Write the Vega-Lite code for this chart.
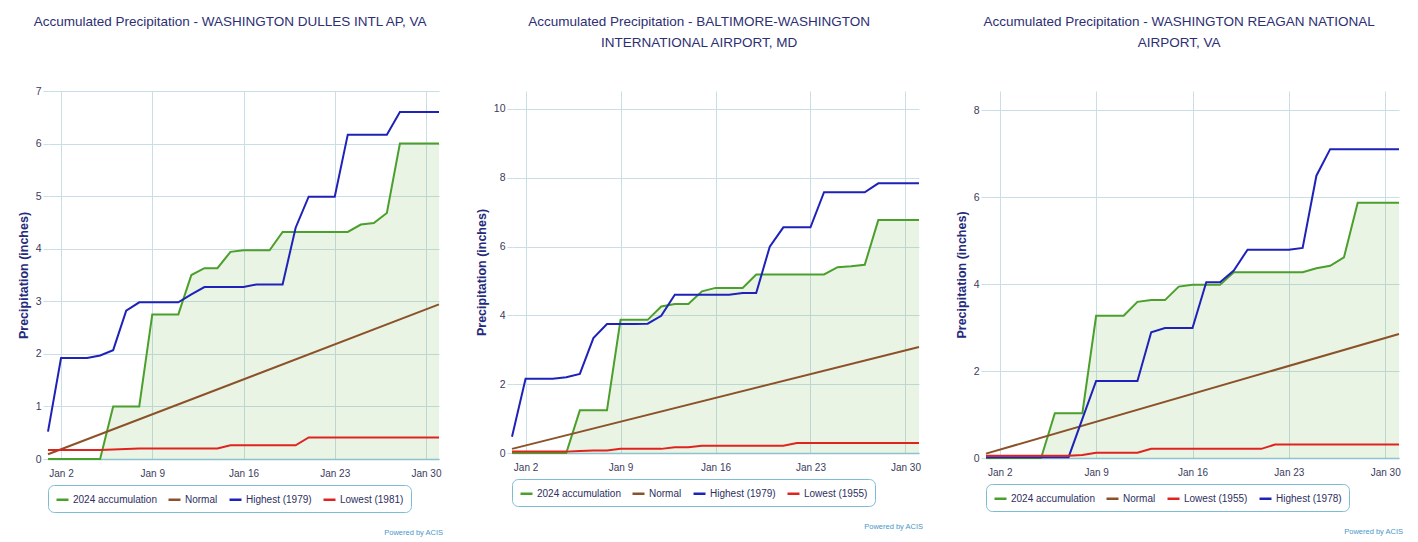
{
  "$schema": "https://vega.github.io/schema/vega-lite/v6.json",
  "background": "white",
  "padding": {"left": 17, "top": 14, "right": 5, "bottom": 2},
  "config": {
    "font": "Liberation Sans",
    "view": {"stroke": null},
    "title": {"fontSize": 13.5, "fontWeight": "normal", "color": "#2d2f73", "lineHeight": 21, "frame": "bounds"},
    "axis": {"labelFontSize": 10.5, "labelColor": "#3b3b5c", "gridColor": "#c9dee7", "tickColor": "#c9dee7", "domain": false, "titleColor": "#262a7a", "titleFontSize": 12.5, "titleFontWeight": "bold"},
    "legend": {"orient": "bottom", "direction": "horizontal", "strokeColor": "#7cbcd4", "cornerRadius": 6, "padding": 7, "fillColor": "#ffffff", "labelFontSize": 10, "labelColor": "#2d2f5e", "columnPadding": 6, "symbolStrokeWidth": 2.5, "symbolSize": 144, "offset": 7, "labelOffset": 3}
  },
  "datasets": {
    "dulles": [
      {"date":"2024-01-01","series":"2024 accumulation","value":0},{"date":"2024-01-02","series":"2024 accumulation","value":0},{"date":"2024-01-03","series":"2024 accumulation","value":0},{"date":"2024-01-04","series":"2024 accumulation","value":0},{"date":"2024-01-05","series":"2024 accumulation","value":0},{"date":"2024-01-06","series":"2024 accumulation","value":1.0},{"date":"2024-01-07","series":"2024 accumulation","value":1.0},{"date":"2024-01-08","series":"2024 accumulation","value":1.0},{"date":"2024-01-09","series":"2024 accumulation","value":2.75},{"date":"2024-01-10","series":"2024 accumulation","value":2.75},{"date":"2024-01-11","series":"2024 accumulation","value":2.75},{"date":"2024-01-12","series":"2024 accumulation","value":3.5},{"date":"2024-01-13","series":"2024 accumulation","value":3.63},{"date":"2024-01-14","series":"2024 accumulation","value":3.63},{"date":"2024-01-15","series":"2024 accumulation","value":3.94},{"date":"2024-01-16","series":"2024 accumulation","value":3.97},{"date":"2024-01-17","series":"2024 accumulation","value":3.97},{"date":"2024-01-18","series":"2024 accumulation","value":3.97},{"date":"2024-01-19","series":"2024 accumulation","value":4.32},{"date":"2024-01-20","series":"2024 accumulation","value":4.32},{"date":"2024-01-21","series":"2024 accumulation","value":4.32},{"date":"2024-01-22","series":"2024 accumulation","value":4.32},{"date":"2024-01-23","series":"2024 accumulation","value":4.32},{"date":"2024-01-24","series":"2024 accumulation","value":4.32},{"date":"2024-01-25","series":"2024 accumulation","value":4.46},{"date":"2024-01-26","series":"2024 accumulation","value":4.49},{"date":"2024-01-27","series":"2024 accumulation","value":4.68},{"date":"2024-01-28","series":"2024 accumulation","value":6.0},{"date":"2024-01-29","series":"2024 accumulation","value":6.0},{"date":"2024-01-30","series":"2024 accumulation","value":6.0},{"date":"2024-01-31","series":"2024 accumulation","value":6.0},
      {"date":"2024-01-01","series":"Normal","value":0.09},{"date":"2024-01-31","series":"Normal","value":2.94},
      {"date":"2024-01-01","series":"Highest (1979)","value":0.52},{"date":"2024-01-02","series":"Highest (1979)","value":1.92},{"date":"2024-01-03","series":"Highest (1979)","value":1.92},{"date":"2024-01-04","series":"Highest (1979)","value":1.92},{"date":"2024-01-05","series":"Highest (1979)","value":1.97},{"date":"2024-01-06","series":"Highest (1979)","value":2.07},{"date":"2024-01-07","series":"Highest (1979)","value":2.82},{"date":"2024-01-08","series":"Highest (1979)","value":2.98},{"date":"2024-01-09","series":"Highest (1979)","value":2.98},{"date":"2024-01-10","series":"Highest (1979)","value":2.98},{"date":"2024-01-11","series":"Highest (1979)","value":2.98},{"date":"2024-01-12","series":"Highest (1979)","value":3.13},{"date":"2024-01-13","series":"Highest (1979)","value":3.27},{"date":"2024-01-14","series":"Highest (1979)","value":3.27},{"date":"2024-01-15","series":"Highest (1979)","value":3.27},{"date":"2024-01-16","series":"Highest (1979)","value":3.27},{"date":"2024-01-17","series":"Highest (1979)","value":3.32},{"date":"2024-01-18","series":"Highest (1979)","value":3.32},{"date":"2024-01-19","series":"Highest (1979)","value":3.32},{"date":"2024-01-20","series":"Highest (1979)","value":4.4},{"date":"2024-01-21","series":"Highest (1979)","value":4.99},{"date":"2024-01-22","series":"Highest (1979)","value":4.99},{"date":"2024-01-23","series":"Highest (1979)","value":4.99},{"date":"2024-01-24","series":"Highest (1979)","value":6.17},{"date":"2024-01-25","series":"Highest (1979)","value":6.17},{"date":"2024-01-26","series":"Highest (1979)","value":6.17},{"date":"2024-01-27","series":"Highest (1979)","value":6.17},{"date":"2024-01-28","series":"Highest (1979)","value":6.6},{"date":"2024-01-29","series":"Highest (1979)","value":6.6},{"date":"2024-01-30","series":"Highest (1979)","value":6.6},{"date":"2024-01-31","series":"Highest (1979)","value":6.6},
      {"date":"2024-01-01","series":"Lowest (1981)","value":0.17},{"date":"2024-01-02","series":"Lowest (1981)","value":0.17},{"date":"2024-01-03","series":"Lowest (1981)","value":0.17},{"date":"2024-01-04","series":"Lowest (1981)","value":0.17},{"date":"2024-01-05","series":"Lowest (1981)","value":0.17},{"date":"2024-01-06","series":"Lowest (1981)","value":0.18},{"date":"2024-01-07","series":"Lowest (1981)","value":0.19},{"date":"2024-01-08","series":"Lowest (1981)","value":0.2},{"date":"2024-01-09","series":"Lowest (1981)","value":0.2},{"date":"2024-01-10","series":"Lowest (1981)","value":0.2},{"date":"2024-01-11","series":"Lowest (1981)","value":0.2},{"date":"2024-01-12","series":"Lowest (1981)","value":0.2},{"date":"2024-01-13","series":"Lowest (1981)","value":0.2},{"date":"2024-01-14","series":"Lowest (1981)","value":0.2},{"date":"2024-01-15","series":"Lowest (1981)","value":0.26},{"date":"2024-01-16","series":"Lowest (1981)","value":0.26},{"date":"2024-01-17","series":"Lowest (1981)","value":0.26},{"date":"2024-01-18","series":"Lowest (1981)","value":0.26},{"date":"2024-01-19","series":"Lowest (1981)","value":0.26},{"date":"2024-01-20","series":"Lowest (1981)","value":0.26},{"date":"2024-01-21","series":"Lowest (1981)","value":0.41},{"date":"2024-01-22","series":"Lowest (1981)","value":0.41},{"date":"2024-01-23","series":"Lowest (1981)","value":0.41},{"date":"2024-01-24","series":"Lowest (1981)","value":0.41},{"date":"2024-01-25","series":"Lowest (1981)","value":0.41},{"date":"2024-01-26","series":"Lowest (1981)","value":0.41},{"date":"2024-01-27","series":"Lowest (1981)","value":0.41},{"date":"2024-01-28","series":"Lowest (1981)","value":0.41},{"date":"2024-01-29","series":"Lowest (1981)","value":0.41},{"date":"2024-01-30","series":"Lowest (1981)","value":0.41},{"date":"2024-01-31","series":"Lowest (1981)","value":0.41}
    ],
    "bwi": [
      {"date":"2024-01-01","series":"2024 accumulation","value":0},{"date":"2024-01-02","series":"2024 accumulation","value":0},{"date":"2024-01-03","series":"2024 accumulation","value":0},{"date":"2024-01-04","series":"2024 accumulation","value":0},{"date":"2024-01-05","series":"2024 accumulation","value":0},{"date":"2024-01-06","series":"2024 accumulation","value":1.24},{"date":"2024-01-07","series":"2024 accumulation","value":1.24},{"date":"2024-01-08","series":"2024 accumulation","value":1.24},{"date":"2024-01-09","series":"2024 accumulation","value":3.87},{"date":"2024-01-10","series":"2024 accumulation","value":3.87},{"date":"2024-01-11","series":"2024 accumulation","value":3.87},{"date":"2024-01-12","series":"2024 accumulation","value":4.26},{"date":"2024-01-13","series":"2024 accumulation","value":4.33},{"date":"2024-01-14","series":"2024 accumulation","value":4.33},{"date":"2024-01-15","series":"2024 accumulation","value":4.7},{"date":"2024-01-16","series":"2024 accumulation","value":4.8},{"date":"2024-01-17","series":"2024 accumulation","value":4.8},{"date":"2024-01-18","series":"2024 accumulation","value":4.8},{"date":"2024-01-19","series":"2024 accumulation","value":5.19},{"date":"2024-01-20","series":"2024 accumulation","value":5.19},{"date":"2024-01-21","series":"2024 accumulation","value":5.19},{"date":"2024-01-22","series":"2024 accumulation","value":5.19},{"date":"2024-01-23","series":"2024 accumulation","value":5.19},{"date":"2024-01-24","series":"2024 accumulation","value":5.19},{"date":"2024-01-25","series":"2024 accumulation","value":5.4},{"date":"2024-01-26","series":"2024 accumulation","value":5.43},{"date":"2024-01-27","series":"2024 accumulation","value":5.47},{"date":"2024-01-28","series":"2024 accumulation","value":6.77},{"date":"2024-01-29","series":"2024 accumulation","value":6.77},{"date":"2024-01-30","series":"2024 accumulation","value":6.77},{"date":"2024-01-31","series":"2024 accumulation","value":6.77},
      {"date":"2024-01-01","series":"Normal","value":0.12},{"date":"2024-01-31","series":"Normal","value":3.08},
      {"date":"2024-01-01","series":"Highest (1979)","value":0.47},{"date":"2024-01-02","series":"Highest (1979)","value":2.16},{"date":"2024-01-03","series":"Highest (1979)","value":2.16},{"date":"2024-01-04","series":"Highest (1979)","value":2.16},{"date":"2024-01-05","series":"Highest (1979)","value":2.2},{"date":"2024-01-06","series":"Highest (1979)","value":2.3},{"date":"2024-01-07","series":"Highest (1979)","value":3.34},{"date":"2024-01-08","series":"Highest (1979)","value":3.75},{"date":"2024-01-09","series":"Highest (1979)","value":3.75},{"date":"2024-01-10","series":"Highest (1979)","value":3.75},{"date":"2024-01-11","series":"Highest (1979)","value":3.76},{"date":"2024-01-12","series":"Highest (1979)","value":3.99},{"date":"2024-01-13","series":"Highest (1979)","value":4.6},{"date":"2024-01-14","series":"Highest (1979)","value":4.6},{"date":"2024-01-15","series":"Highest (1979)","value":4.6},{"date":"2024-01-16","series":"Highest (1979)","value":4.6},{"date":"2024-01-17","series":"Highest (1979)","value":4.6},{"date":"2024-01-18","series":"Highest (1979)","value":4.65},{"date":"2024-01-19","series":"Highest (1979)","value":4.65},{"date":"2024-01-20","series":"Highest (1979)","value":6.0},{"date":"2024-01-21","series":"Highest (1979)","value":6.56},{"date":"2024-01-22","series":"Highest (1979)","value":6.56},{"date":"2024-01-23","series":"Highest (1979)","value":6.56},{"date":"2024-01-24","series":"Highest (1979)","value":7.58},{"date":"2024-01-25","series":"Highest (1979)","value":7.58},{"date":"2024-01-26","series":"Highest (1979)","value":7.58},{"date":"2024-01-27","series":"Highest (1979)","value":7.58},{"date":"2024-01-28","series":"Highest (1979)","value":7.84},{"date":"2024-01-29","series":"Highest (1979)","value":7.84},{"date":"2024-01-30","series":"Highest (1979)","value":7.84},{"date":"2024-01-31","series":"Highest (1979)","value":7.84},
      {"date":"2024-01-01","series":"Lowest (1955)","value":0.04},{"date":"2024-01-02","series":"Lowest (1955)","value":0.04},{"date":"2024-01-03","series":"Lowest (1955)","value":0.04},{"date":"2024-01-04","series":"Lowest (1955)","value":0.04},{"date":"2024-01-05","series":"Lowest (1955)","value":0.04},{"date":"2024-01-06","series":"Lowest (1955)","value":0.06},{"date":"2024-01-07","series":"Lowest (1955)","value":0.07},{"date":"2024-01-08","series":"Lowest (1955)","value":0.07},{"date":"2024-01-09","series":"Lowest (1955)","value":0.12},{"date":"2024-01-10","series":"Lowest (1955)","value":0.12},{"date":"2024-01-11","series":"Lowest (1955)","value":0.12},{"date":"2024-01-12","series":"Lowest (1955)","value":0.12},{"date":"2024-01-13","series":"Lowest (1955)","value":0.17},{"date":"2024-01-14","series":"Lowest (1955)","value":0.17},{"date":"2024-01-15","series":"Lowest (1955)","value":0.21},{"date":"2024-01-16","series":"Lowest (1955)","value":0.21},{"date":"2024-01-17","series":"Lowest (1955)","value":0.21},{"date":"2024-01-18","series":"Lowest (1955)","value":0.21},{"date":"2024-01-19","series":"Lowest (1955)","value":0.21},{"date":"2024-01-20","series":"Lowest (1955)","value":0.21},{"date":"2024-01-21","series":"Lowest (1955)","value":0.21},{"date":"2024-01-22","series":"Lowest (1955)","value":0.29},{"date":"2024-01-23","series":"Lowest (1955)","value":0.29},{"date":"2024-01-24","series":"Lowest (1955)","value":0.29},{"date":"2024-01-25","series":"Lowest (1955)","value":0.29},{"date":"2024-01-26","series":"Lowest (1955)","value":0.29},{"date":"2024-01-27","series":"Lowest (1955)","value":0.29},{"date":"2024-01-28","series":"Lowest (1955)","value":0.29},{"date":"2024-01-29","series":"Lowest (1955)","value":0.29},{"date":"2024-01-30","series":"Lowest (1955)","value":0.29},{"date":"2024-01-31","series":"Lowest (1955)","value":0.29}
    ],
    "dca": [
      {"date":"2024-01-01","series":"2024 accumulation","value":0},{"date":"2024-01-02","series":"2024 accumulation","value":0},{"date":"2024-01-03","series":"2024 accumulation","value":0},{"date":"2024-01-04","series":"2024 accumulation","value":0},{"date":"2024-01-05","series":"2024 accumulation","value":0},{"date":"2024-01-06","series":"2024 accumulation","value":1.03},{"date":"2024-01-07","series":"2024 accumulation","value":1.03},{"date":"2024-01-08","series":"2024 accumulation","value":1.03},{"date":"2024-01-09","series":"2024 accumulation","value":3.27},{"date":"2024-01-10","series":"2024 accumulation","value":3.27},{"date":"2024-01-11","series":"2024 accumulation","value":3.27},{"date":"2024-01-12","series":"2024 accumulation","value":3.59},{"date":"2024-01-13","series":"2024 accumulation","value":3.63},{"date":"2024-01-14","series":"2024 accumulation","value":3.63},{"date":"2024-01-15","series":"2024 accumulation","value":3.94},{"date":"2024-01-16","series":"2024 accumulation","value":3.98},{"date":"2024-01-17","series":"2024 accumulation","value":3.98},{"date":"2024-01-18","series":"2024 accumulation","value":3.98},{"date":"2024-01-19","series":"2024 accumulation","value":4.27},{"date":"2024-01-20","series":"2024 accumulation","value":4.27},{"date":"2024-01-21","series":"2024 accumulation","value":4.27},{"date":"2024-01-22","series":"2024 accumulation","value":4.27},{"date":"2024-01-23","series":"2024 accumulation","value":4.27},{"date":"2024-01-24","series":"2024 accumulation","value":4.27},{"date":"2024-01-25","series":"2024 accumulation","value":4.36},{"date":"2024-01-26","series":"2024 accumulation","value":4.42},{"date":"2024-01-27","series":"2024 accumulation","value":4.61},{"date":"2024-01-28","series":"2024 accumulation","value":5.87},{"date":"2024-01-29","series":"2024 accumulation","value":5.87},{"date":"2024-01-30","series":"2024 accumulation","value":5.87},{"date":"2024-01-31","series":"2024 accumulation","value":5.87},
      {"date":"2024-01-01","series":"Normal","value":0.1},{"date":"2024-01-31","series":"Normal","value":2.85},
      {"date":"2024-01-01","series":"Highest (1978)","value":0.02},{"date":"2024-01-02","series":"Highest (1978)","value":0.02},{"date":"2024-01-03","series":"Highest (1978)","value":0.02},{"date":"2024-01-04","series":"Highest (1978)","value":0.02},{"date":"2024-01-05","series":"Highest (1978)","value":0.02},{"date":"2024-01-06","series":"Highest (1978)","value":0.02},{"date":"2024-01-07","series":"Highest (1978)","value":0.02},{"date":"2024-01-08","series":"Highest (1978)","value":0.9},{"date":"2024-01-09","series":"Highest (1978)","value":1.77},{"date":"2024-01-10","series":"Highest (1978)","value":1.77},{"date":"2024-01-11","series":"Highest (1978)","value":1.77},{"date":"2024-01-12","series":"Highest (1978)","value":1.77},{"date":"2024-01-13","series":"Highest (1978)","value":2.89},{"date":"2024-01-14","series":"Highest (1978)","value":2.99},{"date":"2024-01-15","series":"Highest (1978)","value":2.99},{"date":"2024-01-16","series":"Highest (1978)","value":2.99},{"date":"2024-01-17","series":"Highest (1978)","value":4.04},{"date":"2024-01-18","series":"Highest (1978)","value":4.04},{"date":"2024-01-19","series":"Highest (1978)","value":4.31},{"date":"2024-01-20","series":"Highest (1978)","value":4.79},{"date":"2024-01-21","series":"Highest (1978)","value":4.79},{"date":"2024-01-22","series":"Highest (1978)","value":4.79},{"date":"2024-01-23","series":"Highest (1978)","value":4.79},{"date":"2024-01-24","series":"Highest (1978)","value":4.83},{"date":"2024-01-25","series":"Highest (1978)","value":6.49},{"date":"2024-01-26","series":"Highest (1978)","value":7.1},{"date":"2024-01-27","series":"Highest (1978)","value":7.1},{"date":"2024-01-28","series":"Highest (1978)","value":7.1},{"date":"2024-01-29","series":"Highest (1978)","value":7.1},{"date":"2024-01-30","series":"Highest (1978)","value":7.1},{"date":"2024-01-31","series":"Highest (1978)","value":7.1},
      {"date":"2024-01-01","series":"Lowest (1955)","value":0.05},{"date":"2024-01-02","series":"Lowest (1955)","value":0.05},{"date":"2024-01-03","series":"Lowest (1955)","value":0.05},{"date":"2024-01-04","series":"Lowest (1955)","value":0.05},{"date":"2024-01-05","series":"Lowest (1955)","value":0.05},{"date":"2024-01-06","series":"Lowest (1955)","value":0.05},{"date":"2024-01-07","series":"Lowest (1955)","value":0.05},{"date":"2024-01-08","series":"Lowest (1955)","value":0.07},{"date":"2024-01-09","series":"Lowest (1955)","value":0.12},{"date":"2024-01-10","series":"Lowest (1955)","value":0.12},{"date":"2024-01-11","series":"Lowest (1955)","value":0.12},{"date":"2024-01-12","series":"Lowest (1955)","value":0.12},{"date":"2024-01-13","series":"Lowest (1955)","value":0.21},{"date":"2024-01-14","series":"Lowest (1955)","value":0.21},{"date":"2024-01-15","series":"Lowest (1955)","value":0.21},{"date":"2024-01-16","series":"Lowest (1955)","value":0.21},{"date":"2024-01-17","series":"Lowest (1955)","value":0.21},{"date":"2024-01-18","series":"Lowest (1955)","value":0.21},{"date":"2024-01-19","series":"Lowest (1955)","value":0.21},{"date":"2024-01-20","series":"Lowest (1955)","value":0.21},{"date":"2024-01-21","series":"Lowest (1955)","value":0.21},{"date":"2024-01-22","series":"Lowest (1955)","value":0.31},{"date":"2024-01-23","series":"Lowest (1955)","value":0.31},{"date":"2024-01-24","series":"Lowest (1955)","value":0.31},{"date":"2024-01-25","series":"Lowest (1955)","value":0.31},{"date":"2024-01-26","series":"Lowest (1955)","value":0.31},{"date":"2024-01-27","series":"Lowest (1955)","value":0.31},{"date":"2024-01-28","series":"Lowest (1955)","value":0.31},{"date":"2024-01-29","series":"Lowest (1955)","value":0.31},{"date":"2024-01-30","series":"Lowest (1955)","value":0.31},{"date":"2024-01-31","series":"Lowest (1955)","value":0.31}
    ]
  },
  "hconcat": [
    {
      "title": {"text": "Powered by ACIS", "orient": "bottom", "anchor": "end", "fontSize": 7.5, "color": "#4a98c8", "offset": 16, "lineHeight": 9},
      "vconcat": [
        {
          "title": {"text": ["Accumulated Precipitation - WASHINGTON DULLES INTL AP, VA"], "offset": 58},
          "width": 391, "height": 368,
          "data": {"name": "dulles"},
          "encoding": {
            "x": {"field": "date", "type": "temporal", "title": null, "scale": {"type": "utc", "domain": [{"year": 2024, "month": 1, "date": 1, "utc": true}, {"year": 2024, "month": 1, "date": 31, "utc": true}]}, "axis": {"values": [{"year": 2024, "month": 1, "date": 2, "utc": true}, {"year": 2024, "month": 1, "date": 9, "utc": true}, {"year": 2024, "month": 1, "date": 16, "utc": true}, {"year": 2024, "month": 1, "date": 23, "utc": true}, {"year": 2024, "month": 1, "date": 30, "utc": true}], "labelExpr": "utcFormat(datum.value, '%b %-d')", "labelFontSize": 10, "domain": true, "domainColor": "#8cc3d3", "domainWidth": 1.5, "ticks": false, "labelPadding": 9}},
            "y": {"field": "value", "type": "quantitative", "title": "Precipitation (inches)", "scale": {"domain": [0, 7], "nice": false}, "axis": {"values": [0, 1, 2, 3, 4, 5, 6, 7], "tickSize": 5, "labelPadding": 2, "titlePadding": 5}}
          },
          "layer": [
            {"transform": [{"filter": "datum.series === '2024 accumulation'"}], "mark": {"type": "area", "color": "#5aaa32", "opacity": 0.13}},
            {"mark": {"type": "line", "strokeWidth": 2},
             "encoding": {"color": {"field": "series", "type": "nominal", "title": null,
               "scale": {"domain": ["2024 accumulation", "Normal", "Highest (1979)", "Lowest (1981)"], "range": ["#4b9f2c", "#8b5229", "#1f22b8", "#df2420"]}}}}
          ]
        }
      ]
    },
    {
      "title": {"text": "Powered by ACIS", "orient": "bottom", "anchor": "end", "fontSize": 7.5, "color": "#4a98c8", "offset": 16, "lineHeight": 9},
      "vconcat": [
        {
          "title": {"text": ["Accumulated Precipitation - BALTIMORE-WASHINGTON", "INTERNATIONAL AIRPORT, MD"], "offset": 42},
          "width": 407, "height": 362,
          "data": {"name": "bwi"},
          "encoding": {
            "x": {"field": "date", "type": "temporal", "title": null, "scale": {"type": "utc", "domain": [{"year": 2024, "month": 1, "date": 1, "utc": true}, {"year": 2024, "month": 1, "date": 31, "utc": true}]}, "axis": {"values": [{"year": 2024, "month": 1, "date": 2, "utc": true}, {"year": 2024, "month": 1, "date": 9, "utc": true}, {"year": 2024, "month": 1, "date": 16, "utc": true}, {"year": 2024, "month": 1, "date": 23, "utc": true}, {"year": 2024, "month": 1, "date": 30, "utc": true}], "labelExpr": "utcFormat(datum.value, '%b %-d')", "labelFontSize": 10, "domain": true, "domainColor": "#8cc3d3", "domainWidth": 1.5, "ticks": false, "labelPadding": 9}},
            "y": {"field": "value", "type": "quantitative", "title": "Precipitation (inches)", "scale": {"domain": [0, 10.523], "nice": false}, "axis": {"values": [0, 2, 4, 6, 8, 10], "tickSize": 5, "labelPadding": 2, "titlePadding": 5}}
          },
          "layer": [
            {"transform": [{"filter": "datum.series === '2024 accumulation'"}], "mark": {"type": "area", "color": "#5aaa32", "opacity": 0.13}},
            {"mark": {"type": "line", "strokeWidth": 2},
             "encoding": {"color": {"field": "series", "type": "nominal", "title": null,
               "scale": {"domain": ["2024 accumulation", "Normal", "Highest (1979)", "Lowest (1955)"], "range": ["#4b9f2c", "#8b5229", "#1f22b8", "#df2420"]}}}},
            {"data": {"values": [{}]}, "mark": {"type": "rect", "color": "white"},
             "encoding": {"x": {"datum": {"year": 2024, "month": 1, "date": 1, "utc": true}}, "x2": {"datum": {"year": 2024, "month": 1, "date": 31, "utc": true}}, "y": {"datum": 10.04}, "y2": {"datum": 10.523}}}
          ]
        }
      ]
    },
    {
      "title": {"text": "Powered by ACIS", "orient": "bottom", "anchor": "end", "fontSize": 7.5, "color": "#4a98c8", "offset": 16, "lineHeight": 9},
      "vconcat": [
        {
          "title": {"text": ["Accumulated Precipitation - WASHINGTON REAGAN NATIONAL", "AIRPORT, VA"], "offset": 42},
          "width": 413, "height": 367,
          "data": {"name": "dca"},
          "encoding": {
            "x": {"field": "date", "type": "temporal", "title": null, "scale": {"type": "utc", "domain": [{"year": 2024, "month": 1, "date": 1, "utc": true}, {"year": 2024, "month": 1, "date": 31, "utc": true}]}, "axis": {"values": [{"year": 2024, "month": 1, "date": 2, "utc": true}, {"year": 2024, "month": 1, "date": 9, "utc": true}, {"year": 2024, "month": 1, "date": 16, "utc": true}, {"year": 2024, "month": 1, "date": 23, "utc": true}, {"year": 2024, "month": 1, "date": 30, "utc": true}], "labelExpr": "utcFormat(datum.value, '%b %-d')", "labelFontSize": 10, "domain": true, "domainColor": "#8cc3d3", "domainWidth": 1.5, "ticks": false, "labelPadding": 9}},
            "y": {"field": "value", "type": "quantitative", "title": "Precipitation (inches)", "scale": {"domain": [0, 8.437], "nice": false}, "axis": {"values": [0, 2, 4, 6, 8], "tickSize": 5, "labelPadding": 2, "titlePadding": 5}}
          },
          "layer": [
            {"transform": [{"filter": "datum.series === '2024 accumulation'"}], "mark": {"type": "area", "color": "#5aaa32", "opacity": 0.13}},
            {"mark": {"type": "line", "strokeWidth": 2},
             "encoding": {"color": {"field": "series", "type": "nominal", "title": null,
               "scale": {"domain": ["2024 accumulation", "Normal", "Lowest (1955)", "Highest (1978)"], "range": ["#4b9f2c", "#8b5229", "#df2420", "#1f22b8"]}}}},
            {"data": {"values": [{}]}, "mark": {"type": "rect", "color": "white"},
             "encoding": {"x": {"datum": {"year": 2024, "month": 1, "date": 1, "utc": true}}, "x2": {"datum": {"year": 2024, "month": 1, "date": 31, "utc": true}}, "y": {"datum": 8.03}, "y2": {"datum": 8.437}}}
          ]
        }
      ]
    }
  ],
  "spacing": 32,
  "resolve": {"scale": {"color": "independent"}, "legend": {"color": "independent"}}
}
